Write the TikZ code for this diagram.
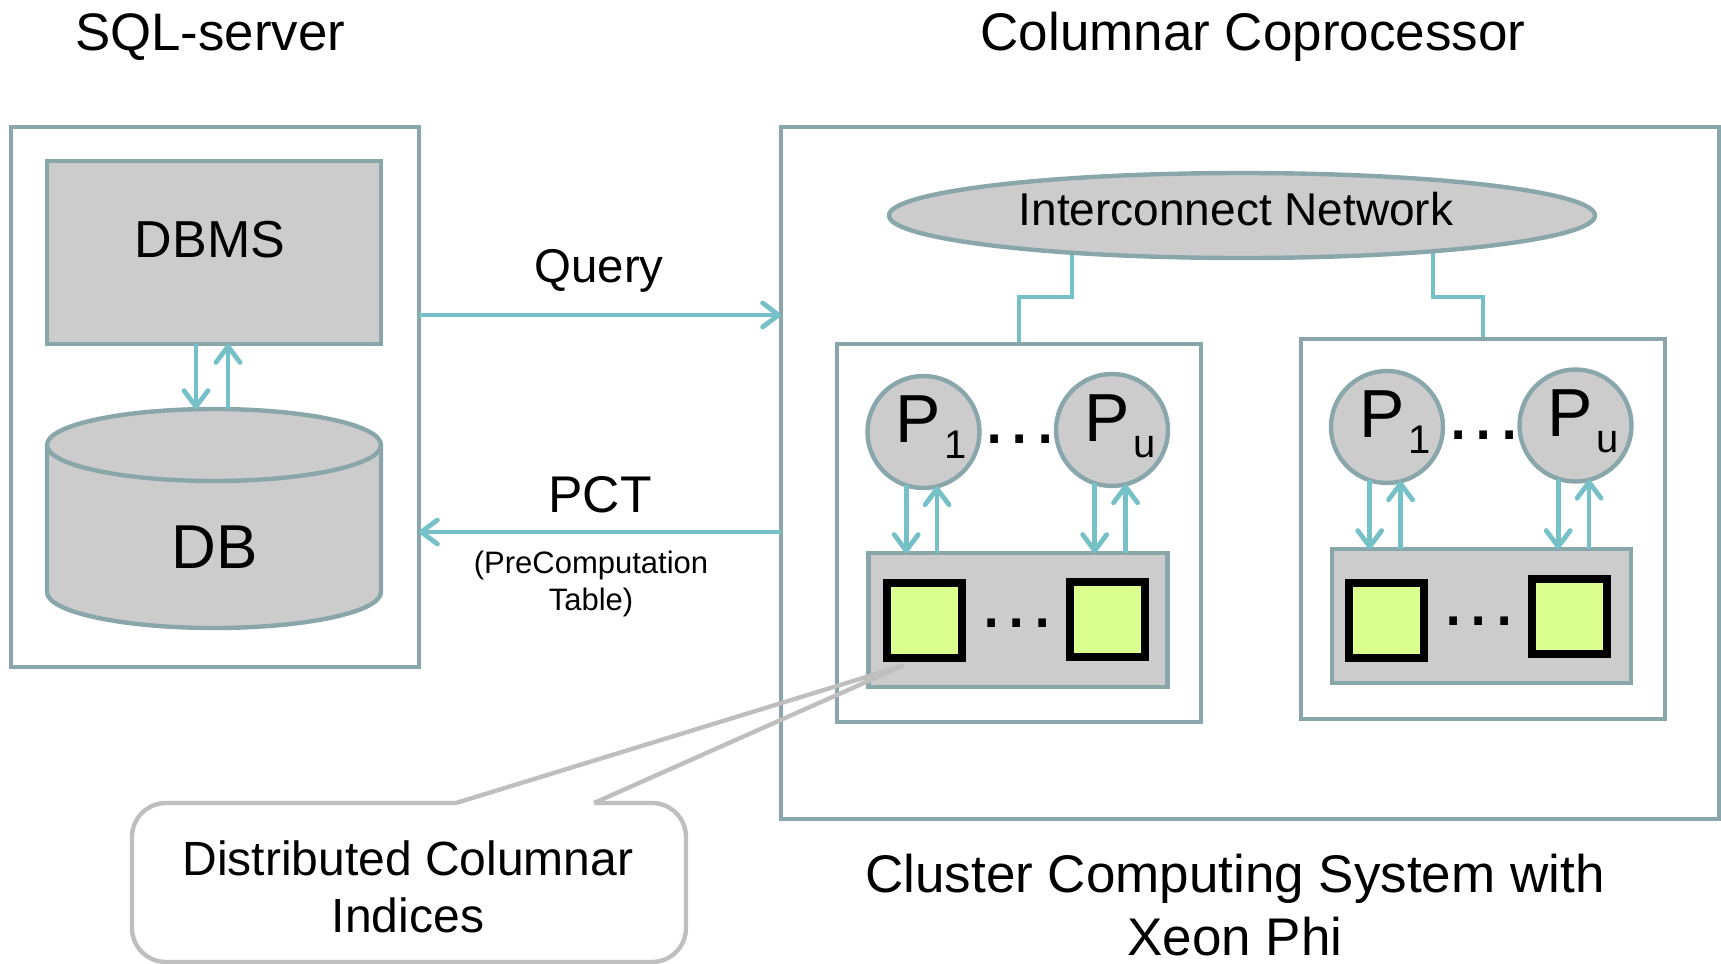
\documentclass[tikz,border=0pt]{standalone}
\usepackage{fontspec}
\setmainfont{Liberation Sans}
\usetikzlibrary{arrows.meta,shapes.geometric,backgrounds}

\definecolor{edgegray}{RGB}{137,166,170}
\definecolor{linkteal}{RGB}{117,193,199}
\definecolor{boxfill}{RGB}{204,204,204}
\definecolor{cellgreen}{RGB}{218,255,143}
\definecolor{notegray}{RGB}{191,191,191}

\newcommand{\setfs}[2]{\fontsize{#1pt}{#2pt}\selectfont}
\newcommand{\procname}[1]{P\kern1.5pt\raisebox{-8pt}{\fontsize{20pt}{20pt}\selectfont #1}}
\newcommand{\threedots}{.\hspace{1.5pt}.\hspace{1.5pt}.}

\tikzset{
  frame/.style={rectangle, draw=edgegray, line width=2.2pt, inner sep=0pt, outer sep=0pt},
  gbox/.style={frame, fill=boxfill},
  proc/.style={circle, draw=edgegray, fill=boxfill, line width=2.2pt, minimum size=56pt, inner sep=0pt, outer sep=0pt},
  cell/.style={rectangle, draw=black, fill=cellgreen, line width=4pt, minimum size=37.5pt, inner sep=0pt, outer sep=0pt},
  flow/.style={draw=linkteal, line width=2.4pt, -{Straight Barb[round,length=8pt,width=12pt]}},
  link/.style={draw=linkteal, line width=2.4pt},
  notepath/.style={draw=notegray, line width=2.2pt},
  txt/.style={anchor=base, inner sep=0pt, outer sep=0pt},
  dotrow/.style={txt, font=\setfs{40}{44}},
}

\begin{document}
\begin{tikzpicture}[x=0.5pt, y=-0.5pt]
\useasboundingbox (0,0) rectangle (1721,964);

% titles
\node[txt, font=\setfs{26.4}{30}] (sqltitle) at (210,50) {SQL-server};
\node[txt, font=\setfs{26.5}{30}] (coptitle) at (1253,50) {Columnar Coprocessor};

% SQL server side
\node[frame, minimum width=204pt, minimum height=270pt] (sql) at (215,397) {};
\node[gbox, minimum width=167pt, minimum height=91.5pt] (dbms) at (214,252.5) {};
\node[txt, font=\setfs{26}{30}] (dbmslbl) at (210,257.5) {DBMS};

% database cylinder
\coordinate (dbtop) at (214,409);
\filldraw[draw=edgegray, fill=boxfill, line width=2.2pt]
  (47,445) -- (47,592) arc[start angle=180, end angle=360, x radius=83.5pt, y radius=18pt]
  -- (381,445) arc[start angle=0, end angle=180, x radius=83.5pt, y radius=18pt] -- cycle;
\draw[edgegray, line width=2.2pt] (47,445) arc[start angle=180, end angle=360, x radius=83.5pt, y radius=18pt];
\node[txt, font=\setfs{31}{35}] (dblbl) at (215,568) {DB};

\draw[flow] ([xshift=-9pt]dbms.south) -- ([xshift=-9pt]dbms.south |- dbtop);
\draw[flow] ([xshift=7pt]dbms.south |- dbtop) -- ([xshift=7pt]dbms.south);

% coprocessor side
\node[frame, minimum width=469pt, minimum height=346pt] (cop) at (1250,473) {};

% query / result arrows
\draw[flow] ([yshift=41pt]sql.east) -- ([yshift=41pt]sql.east -| cop.west);
\draw[flow] ([yshift=-67.5pt]sql.east -| cop.west) -- ([yshift=-67.5pt]sql.east);
\node[txt, font=\setfs{23.7}{28}] (qlbl) at (599,282) {Query};
\node[txt, font=\setfs{25.8}{30}] (pctlbl) at (600,512) {PCT};
\node[txt, align=center, font=\setfs{15.5}{18.5}] (pctnote) at (591,610) {(PreComputation\\Table)};

% interconnect
\node[ellipse, draw=edgegray, fill=boxfill, line width=2.2pt, minimum width=353pt, minimum height=42.5pt, inner sep=0pt] (net) at (1242,215.5) {};
\node[txt, font=\setfs{23}{27}] (netlbl) at (1236,225) {Interconnect Network};

% compute nodes
\node[frame, minimum width=182pt, minimum height=189pt] (nodeA) at (1019,533) {};
\node[frame, minimum width=182pt, minimum height=190pt] (nodeB) at (1483,529) {};

\begin{scope}[on background layer]
  \coordinate (bendA) at (1072,297);
  \coordinate (bendB) at (1433,297);
  \draw[link] (bendA |- net.center) -- (bendA) -| (nodeA.north);
  \draw[link] (bendB |- net.center) -- (bendB) -| (nodeB.north);
\end{scope}

% processors
\node[proc] (pa1) at (923.5,432) {};
\node[proc] (pau) at (1112,430) {};
\node[proc] (pb1) at (1387,427) {};
\node[proc] (pbu) at (1575.5,425.5) {};
\node[txt, font=\setfs{34}{38}] (pa1lbl) at (931,442) {\procname{1}};
\node[txt, font=\setfs{34}{38}] (paulbl) at (1120,441) {\procname{u}};
\node[txt, font=\setfs{34}{38}] (pb1lbl) at (1395,437) {\procname{1}};
\node[txt, font=\setfs{34}{38}] (pbulbl) at (1583,436) {\procname{u}};
\node[dotrow] (pdotsA) at (1020,443) {\threedots};
\node[dotrow] (pdotsB) at (1484,439) {\threedots};

% storage blocks
\node[gbox, minimum width=149.5pt, minimum height=67pt] (stA) at (1018,620) {};
\node[gbox, minimum width=149.5pt, minimum height=67pt] (stB) at (1481.5,616) {};
\node[cell] (ca1) at (924.5,620.5) {};
\node[cell] (ca2) at (1107.5,619.5) {};
\node[cell] (cb1) at (1386,620) {};
\node[cell] (cb2) at (1569.5,616.5) {};
\node[dotrow] (sdotsA) at (1017,627) {\threedots};
\node[dotrow] (sdotsB) at (1479,625) {\threedots};

% processor <-> storage
\foreach \p/\s in {pa1/stA, pau/stA, pb1/stB, pbu/stB} {
  \draw[flow] (\p.252) -- (\p.252 |- \s.north);
  \draw[flow] (\p.284 |- \s.north) -- (\p.284);
}

% callout
\node[minimum width=277pt, minimum height=79.5pt, inner sep=0pt, outer sep=0pt] (note) at (409,882.5) {};
\coordinate (tip) at (902,666);
\draw[notepath, rounded corners=17pt]
  ([xshift=23.5pt]note.north) -- (note.north west) -- (note.south west)
  -- (note.south east) -- (note.north east) -- ([xshift=92.5pt]note.north);
\draw[notepath, line join=round] ([xshift=23.5pt]note.north) -- (tip) -- ([xshift=92.5pt]note.north);
\node[txt, align=center, font=\setfs{24}{28.5}] (notetxt) at (408,932) {Distributed Columnar\\Indices};

% caption
\node[txt, align=center, font=\setfs{26.5}{31.5}] (cluster) at (1235,955) {Cluster Computing System with\\Xeon Phi};
\end{tikzpicture}
\end{document}
